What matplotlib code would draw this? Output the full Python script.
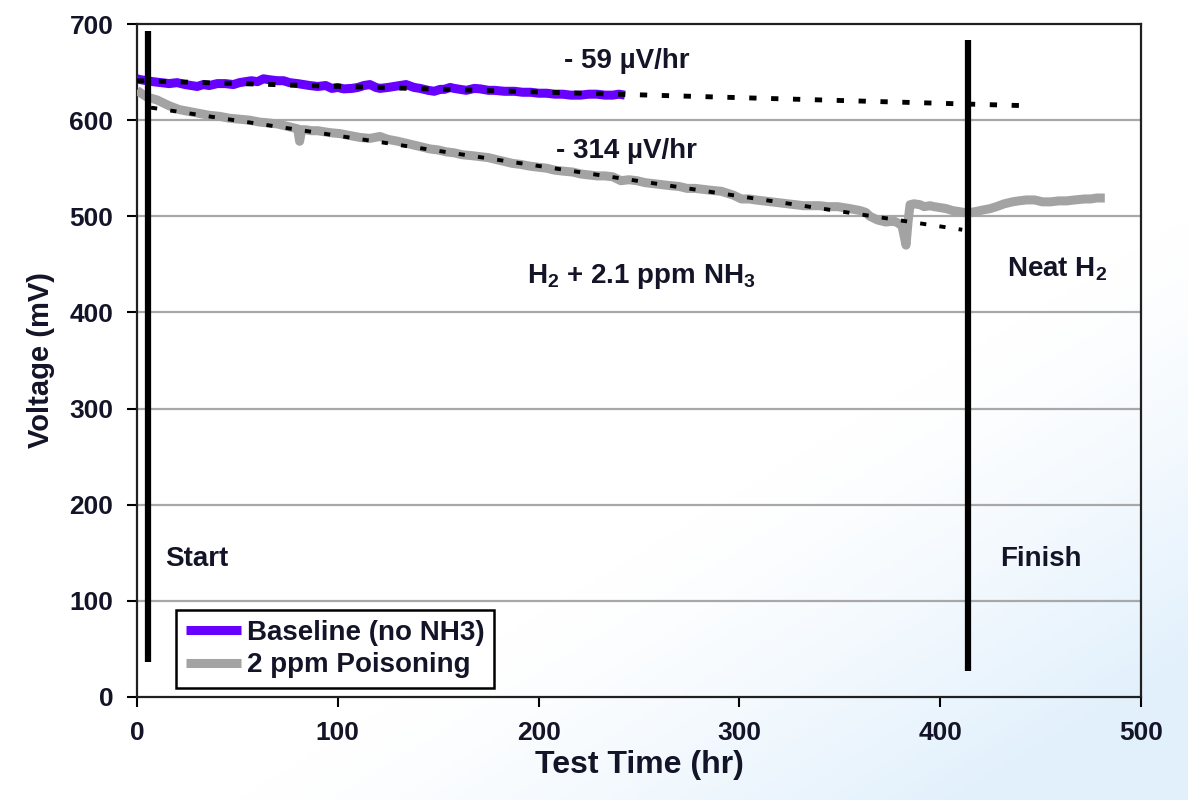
import numpy as np
import matplotlib.pyplot as plt

plt.rcParams['mathtext.fontset'] = 'custom'
plt.rcParams['mathtext.bf'] = 'Liberation Sans:bold'
plt.rcParams['mathtext.rm'] = 'Liberation Sans'

# Baseline (no NH3)
base_hr = [0, 2, 5, 8, 12, 16, 20, 24, 27, 30, 33, 36, 40, 44, 48, 51, 54, 57, 60,
           63, 66, 70, 73, 76, 80, 83, 86, 90, 94, 97, 100, 103, 107, 110, 113,
           116, 119, 121, 125, 128, 131, 134, 138, 141, 145, 148, 151, 153, 156,
           158, 161, 164, 168, 171, 175, 178, 183, 188, 192, 196, 200, 204, 208,
           212, 216, 221, 225, 229, 233, 237, 240, 243]
base_mv = [643, 642, 641, 640, 639, 638, 639, 637, 636, 635, 637, 636, 638, 638, 637,
           639, 640, 641, 640, 643, 642, 641, 641, 639, 638, 637, 636, 635, 636,
           633, 634, 632.5, 633, 634, 636, 637, 634, 633, 634, 635, 636, 637, 634,
           633, 631, 630, 632, 632, 634, 633, 632, 631, 633, 632.5, 631, 631, 630,
           630, 629, 629, 628, 628, 627, 627, 626, 626, 627, 627, 626, 626, 627, 626]

# 2 ppm poisoning
pois_hr = [0, 2, 5, 10, 16, 21, 26, 31, 36, 41, 46, 51, 56, 61, 66, 70, 74, 78, 80,
           81, 82, 84, 87, 90, 93, 96, 101, 106, 111, 116, 121, 125, 130, 134, 138,
           142, 146, 150, 154, 158, 162, 167, 171, 175, 179, 183, 187, 191, 196, 200,
           204, 208, 212, 217, 221, 225, 229, 233, 237, 241, 245, 249, 253, 257, 261,
           265, 270, 274, 278, 282, 286, 291, 294, 297, 301, 305, 308, 312, 316, 320,
           324, 328, 332, 336, 340, 344, 349, 352, 355, 360, 363, 365, 369, 373, 377,
           379, 381, 383, 384, 385, 387, 390, 392, 395, 397, 400, 403, 406, 409, 412,
           415, 418, 420, 425, 428, 432, 436, 439, 443, 447, 451, 455, 459, 463, 467,
           472, 475, 478, 482]
pois_mv = [631, 628, 624, 621, 615, 611, 609, 607, 605, 604, 602, 601, 600, 598, 597,
           596, 594, 592, 591, 578, 590, 590, 589, 589, 588, 587, 586, 584, 582, 581,
           583, 580, 578, 576, 574, 572, 570, 569, 567, 566, 564, 563, 562, 561, 559,
           557, 555, 554, 552, 551, 550, 548, 547, 546, 544, 543, 542, 542, 541, 537,
           538, 537, 535, 534, 533, 532, 531, 529, 529, 528, 527, 526, 524, 522, 518,
           518, 517, 516, 515, 514, 513, 512, 511, 511, 511, 510, 510, 509, 508, 506,
           504, 500, 496, 494, 495, 493, 490, 470, 494, 512, 513, 512, 510, 511, 510,
           509, 508, 506, 505, 504, 504, 505, 506, 508, 510, 513, 515, 516, 517, 517,
           515, 515, 516, 516, 517, 518, 518, 519, 519]

# linear fits and markers
fit_base_hr = [0, 443]
fit_base_mv = [641, 615]
fit_pois_hr = [7, 411]
fit_pois_mv = [613, 486]
start_hr, finish_hr = 5.5, 414
start_span = [36, 693]
finish_span = [27, 683]

purple = '#6600ff'
gray = '#a3a3a3'
txt = '#141428'
font = 'Liberation Sans'

fig = plt.figure(figsize=(11.88, 8.0), dpi=100)

# soft blue wash in the lower right like the slide background
bg = fig.add_axes([0, 0, 1, 1], zorder=-10)
yy, xx = np.mgrid[0:1:200j, 0:1:300j]
w = np.clip((xx * 1.0 + (1 - yy) * 1.1 - 1.3) / 0.6, 0, 1) ** 1.3
img = np.ones((200, 300, 3))
img[..., 0] -= w * 0.11
img[..., 1] -= w * 0.055
img[..., 2] -= w * 0.01
bg.imshow(img, aspect='auto', extent=[0, 1, 0, 1], origin='lower')
bg.axis('off')

ax = fig.add_axes([0.1153, 0.1288, 0.8451, 0.8412])
ax.patch.set_alpha(0)

for v in range(100, 700, 100):
    ax.axhline(v, color='#a8a8a8', lw=1.6, zorder=1)

ax.plot(base_hr, base_mv, color=purple, lw=6.5, solid_capstyle='butt',
        label='Baseline (no NH3)', zorder=3)
ax.plot(pois_hr, pois_mv, color=gray, lw=6.5, solid_capstyle='butt',
        label='2 ppm Poisoning', zorder=3)
ax.plot(fit_base_hr, fit_base_mv, color='black', lw=3.5,
        linestyle=(0, (1.5, 3.0)), zorder=4)
ax.plot(fit_pois_hr, fit_pois_mv, color='black', lw=2.8,
        linestyle=(0, (1.6, 3.4)), zorder=4)

ax.plot([start_hr, start_hr], start_span, color='black', lw=4.5,
        solid_capstyle='butt', zorder=5)
ax.plot([finish_hr, finish_hr], finish_span, color='black', lw=4.5,
        solid_capstyle='butt', zorder=5)

tk = dict(fontfamily=font, fontweight='bold', fontsize=20, color=txt)
ax.text(244, 662, '- 59 µV/hr', ha='center', va='center', **tk)
ax.text(244, 568, '- 314 µV/hr', ha='center', va='center', **tk)
ax.text(251, 437, 'H$_\\mathbf{2}$ + 2.1 ppm NH$_\\mathbf{3}$', ha='center', va='center', **tk)
ax.text(458, 445, 'Neat H$_\\mathbf{2}$', ha='center', va='center', **tk)
ax.text(14, 143, 'Start', ha='left', va='center', **tk)
ax.text(430, 143, 'Finish', ha='left', va='center', **tk)

ax.set_xlim(0, 500)
ax.set_ylim(0, 700)
ax.set_xticks(range(0, 501, 100))
ax.set_yticks(range(0, 701, 100))
ax.tick_params(direction='out', length=7, width=1.5, labelsize=19, pad=10,
               colors='black', labelcolor=txt)
for lab in ax.get_xticklabels() + ax.get_yticklabels():
    lab.set_fontfamily(font)
    lab.set_fontweight('bold')
for s in ax.spines.values():
    s.set_linewidth(1.6)
    s.set_color('#202020')

ax.set_xlabel('Test Time (hr)', fontfamily=font, fontweight='bold', fontsize=23,
              color=txt, labelpad=4)
ax.set_ylabel('Voltage (mV)', fontfamily=font, fontweight='bold', fontsize=21,
              color=txt, labelpad=10)

leg = ax.legend(loc='lower left', bbox_to_anchor=(0.039, 0.013), fancybox=False,
                frameon=True, edgecolor='black', handlelength=2.0, handletextpad=0.2,
                borderpad=0.35, labelspacing=0.25, borderaxespad=0,
                prop={'family': font, 'weight': 'bold', 'size': 20})
leg.get_frame().set_linewidth(1.8)
leg.get_frame().set_facecolor('white')
leg.get_frame().set_alpha(1)
for t in leg.get_texts():
    t.set_color(txt)

fig.savefig('out.png', dpi=100)
